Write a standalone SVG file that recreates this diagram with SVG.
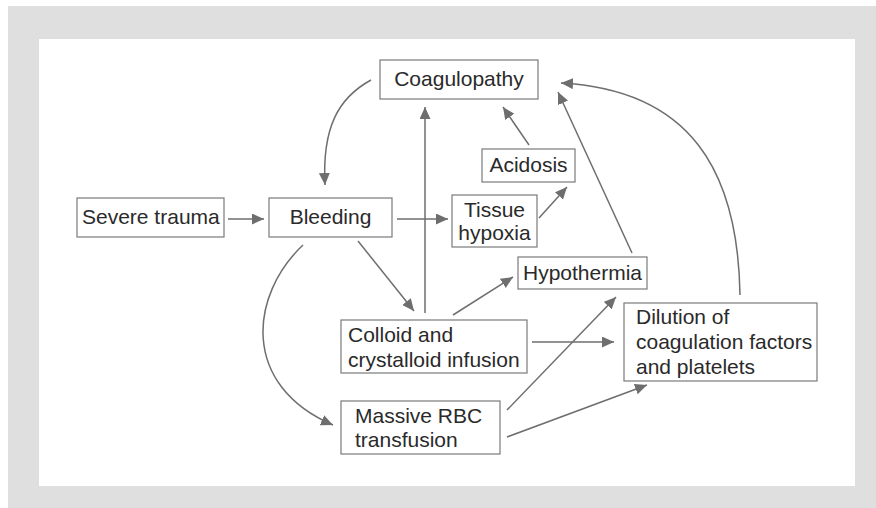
<svg xmlns="http://www.w3.org/2000/svg" width="876" height="508" viewBox="0 0 876 508">
  <style>
    .box { fill: #ffffff; stroke: #7a7a7a; stroke-width: 1.2; }
    .lbl { font-family: "Liberation Sans", Arial, sans-serif; font-size: 21px; fill: #2a2a2a; }
    .mid { text-anchor: middle; }
    .conn { fill: none; stroke: #6e6e6e; stroke-width: 1.5; marker-end: url(#arrow); }
  </style>
  <defs>
    <marker id="arrow" markerUnits="userSpaceOnUse" markerWidth="14" markerHeight="12" refX="12" refY="5.5" orient="auto">
      <path d="M0,0 L12,5.5 L0,11 Z" fill="#6e6e6e"/>
    </marker>
  </defs>

  <rect x="8" y="6" width="868" height="502" fill="#dfdfdf"/>
  <rect x="39" y="39" width="816" height="447" fill="#ffffff"/>

  <g id="connectors">
    <line class="conn" x1="228" y1="219" x2="264" y2="219"/>
    <line class="conn" x1="397" y1="219" x2="448" y2="219"/>
    <line class="conn" x1="425" y1="313" x2="425" y2="107"/>
    <path class="conn" d="M371,80 C338,98 322,128 325,185"/>
    <line class="conn" x1="529" y1="145" x2="503" y2="107"/>
    <line class="conn" x1="539" y1="218" x2="567" y2="187"/>
    <line class="conn" x1="632" y1="253" x2="558" y2="92"/>
    <path class="conn" d="M740,295 C738,170 690,90 561,83"/>
    <line class="conn" x1="358" y1="241" x2="414" y2="311"/>
    <line class="conn" x1="453" y1="315" x2="513" y2="277"/>
    <line class="conn" x1="532" y1="342" x2="614" y2="342"/>
    <line class="conn" x1="507" y1="410" x2="616" y2="297"/>
    <line class="conn" x1="507" y1="437" x2="647" y2="385"/>
    <path class="conn" d="M303,245 C250,295 240,385 333,425"/>
  </g>

  <g id="coagulopathy">
    <rect class="box" x="380" y="60" width="158" height="39"/>
    <text class="lbl mid" x="459" y="86">Coagulopathy</text>
  </g>
  <g id="severe-trauma">
    <rect class="box" x="77" y="198" width="147" height="39"/>
    <text class="lbl" x="82" y="224">Severe trauma</text>
  </g>
  <g id="bleeding">
    <rect class="box" x="269" y="198" width="123" height="39"/>
    <text class="lbl mid" x="330.5" y="224">Bleeding</text>
  </g>
  <g id="acidosis">
    <rect class="box" x="482" y="149" width="93" height="33"/>
    <text class="lbl mid" x="528.5" y="172">Acidosis</text>
  </g>
  <g id="tissue-hypoxia">
    <rect class="box" x="452" y="195" width="85" height="52"/>
    <text class="lbl mid" x="494.5" y="217">Tissue</text>
    <text class="lbl mid" x="494.5" y="240">hypoxia</text>
  </g>
  <g id="hypothermia">
    <rect class="box" x="518" y="257" width="129" height="32"/>
    <text class="lbl mid" x="582.5" y="280">Hypothermia</text>
  </g>
  <g id="colloid">
    <rect class="box" x="341" y="320" width="186" height="53"/>
    <text class="lbl" x="348" y="342">Colloid and</text>
    <text class="lbl" x="348" y="367">crystalloid infusion</text>
  </g>
  <g id="dilution">
    <rect class="box" x="624" y="303" width="193" height="78"/>
    <text class="lbl" x="636" y="324">Dilution of</text>
    <text class="lbl" x="636" y="349">coagulation factors</text>
    <text class="lbl" x="636" y="374">and platelets</text>
  </g>
  <g id="massive-rbc">
    <rect class="box" x="341" y="401" width="159" height="53"/>
    <text class="lbl" x="355" y="423">Massive RBC</text>
    <text class="lbl" x="355" y="447">transfusion</text>
  </g>
</svg>
